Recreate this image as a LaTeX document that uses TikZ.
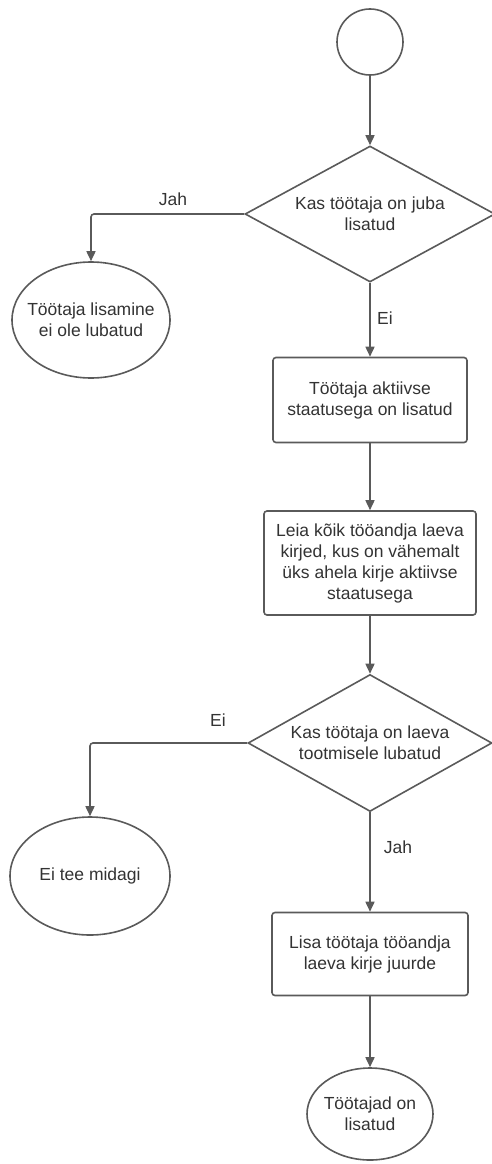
\documentclass[tikz,border=0pt]{standalone}
\usepackage{fontspec}
\setmainfont{Liberation Sans}
\usetikzlibrary{shapes.geometric,arrows.meta}
\definecolor{edge}{HTML}{5A5A5A}
\definecolor{ink}{HTML}{333333}
\begin{document}
\begin{tikzpicture}[x=1pt,y=-1pt,
  every node/.style={font=\fontsize{17.5}{21}\selectfont, text=ink, align=center, inner sep=0pt},
  shapebase/.style={draw=edge, line width=1.6pt, fill=white},
  procbox/.style={shapebase, rectangle, rounded corners=3pt},
  decision/.style={shapebase, diamond},
  terminal/.style={shapebase, ellipse},
  flow/.style={draw=edge, line width=1.6pt, rounded corners=3pt, -{Triangle[length=10pt,width=9pt]}},
  lbl/.style={font=\fontsize{17.5}{21}\selectfont}
]
\useasboundingbox (0,0) rectangle (491,1164);

% nodes (diamonds and ellipses carry their text as a centred label)
\node[shapebase, circle, minimum size=66pt] (start) at (370,42) {};
\node[decision, minimum width=250pt, minimum height=136pt,
      label={center:{Kas töötaja on juba\\lisatud}}] (d1) at (370,214) {};
\node[terminal, minimum width=158pt, minimum height=116pt,
      label={center:{Töötaja lisamine\\ei ole lubatud}}] (e1) at (91,320) {};
\node[procbox, minimum width=194pt, minimum height=85pt] (r1) at (370,400) {Töötaja aktiivse\\staatusega on lisatud};
\node[procbox, minimum width=212pt, minimum height=104pt] (r2) at (370,563) {Leia kõik tööandja laeva\\kirjed, kus on vähemalt\\üks ahela kirje aktiivse\\staatusega};
\node[decision, minimum width=244pt, minimum height=137pt,
      label={center:{Kas töötaja on laeva\\tootmisele lubatud}}] (d2) at (370,743) {};
\node[terminal, minimum width=160pt, minimum height=118pt,
      label={center:{Ei tee midagi}}] (e2) at (90,876) {};
\node[procbox, minimum width=196pt, minimum height=83pt] (r3) at (370,954) {Lisa töötaja tööandja\\laeva kirje juurde};
\node[terminal, minimum width=126pt, minimum height=92pt,
      label={center:{Töötajad on\\lisatud}}] (e3) at (370,1114) {};

% connectors
\draw[flow] (start.south) -- (d1.north);
\draw[flow] (d1.west) -| (e1.north);
\draw[flow] (d1.south) -- (r1.north);
\draw[flow] (r1.south) -- (r2.north);
\draw[flow] (r2.south) -- (d2.north);
\draw[flow] (d2.west) -| (e2.north);
\draw[flow] (d2.south) -- (r3.north);
\draw[flow] (r3.south) -- (e3.north);

% branch labels
\node[lbl] (l1) at (173,199) {Jah};
\node[lbl] (l2) at (385,318) {Ei};
\node[lbl] (l3) at (218,720) {Ei};
\node[lbl] (l4) at (398,847) {Jah};
\end{tikzpicture}
\end{document}
